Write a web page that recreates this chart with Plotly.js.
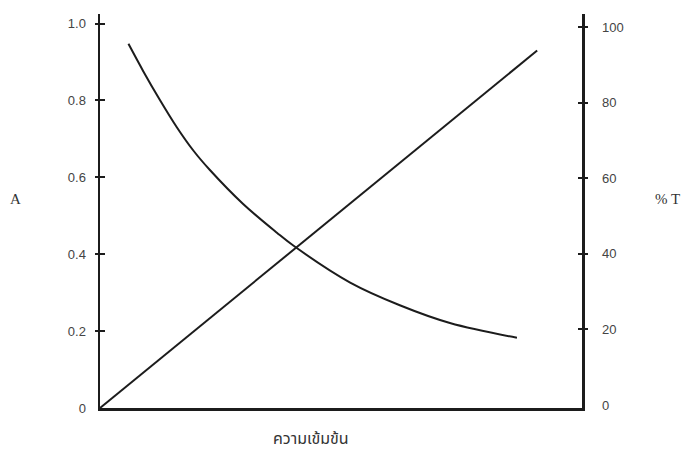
<!DOCTYPE html>
<html>
<head>
<meta charset="utf-8">
<script src="https://cdn.plot.ly/plotly-3.0.1.min.js"></script>
<style>
  html, body { margin: 0; padding: 0; background: #fff; }
  #chart { width: 688px; height: 451px; }
</style>
</head>
<body>
<div id="chart"></div>
<script>
// Absorbance rises linearly with concentration; transmittance falls off.
const concLine = [0, 0.907];
const absorbance = [0, 0.930];

const concCurve = [0.059, 0.090, 0.124, 0.159, 0.194, 0.228, 0.297, 0.367, 0.401, 0.519, 0.622, 0.726, 0.865];
const transmittance = [95.6, 88.3, 80.8, 73.6, 67.3, 62.2, 53.2, 45.6, 42.2, 32.4, 26.4, 21.7, 17.8];

const aTicks = [0, 0.2, 0.4, 0.6, 0.8, 1.0];
const aTickText = ['0', '0.2', '0.4', '0.6', '0.8', '1.0'];
const tTicks = [0, 20, 40, 60, 80, 100];
const tTickText = ['0', '20', '40', '60', '80', '100'];

const ink = '#1c1c1c';
const labelFont = { family: 'Liberation Sans, Arial, sans-serif', size: 13, color: '#444' };

const traces = [
  {
    x: concLine, y: absorbance, yaxis: 'y', mode: 'lines',
    line: { color: ink, width: 2 }, hoverinfo: 'skip', showlegend: false
  },
  {
    x: concCurve, y: transmittance, yaxis: 'y2', mode: 'lines',
    line: { color: ink, width: 2, shape: 'spline', smoothing: 1 }, hoverinfo: 'skip', showlegend: false
  }
];

const aRange = [0, 1.025];
const tRange = [-0.8, 103.5];

const layout = {
  width: 688, height: 451,
  margin: { l: 100, r: 106, t: 14, b: 43 },
  paper_bgcolor: '#fff', plot_bgcolor: '#fff',
  showlegend: false,
  xaxis: {
    range: [0, 1], showline: true, linecolor: ink, linewidth: 2.5,
    showgrid: false, zeroline: false, ticks: '', showticklabels: false, fixedrange: true
  },
  yaxis: {
    range: aRange, showline: true, linecolor: ink, linewidth: 2.5,
    showgrid: false, zeroline: false, ticks: '',
    tickmode: 'array', tickvals: aTicks, ticktext: aTickText,
    tickfont: labelFont, ticklabelstandoff: 9, fixedrange: true
  },
  // crossing tick marks on the absorbance axis
  yaxis3: {
    range: aRange, overlaying: 'y', anchor: 'free', position: 0, side: 'left',
    autoshift: false, shift: 5,
    showline: false, showgrid: false, zeroline: false,
    ticks: 'outside', ticklen: 10, tickwidth: 2, tickcolor: ink,
    tickmode: 'array', tickvals: aTicks.slice(1), showticklabels: false, fixedrange: true
  },
  yaxis2: {
    range: tRange, overlaying: 'y', side: 'right', anchor: 'x',
    showline: true, linecolor: ink, linewidth: 2.5,
    showgrid: false, zeroline: false, ticks: '',
    tickmode: 'array', tickvals: tTicks, ticktext: tTickText,
    tickfont: labelFont, ticklabelstandoff: 15, fixedrange: true
  },
  // crossing tick marks on the transmittance axis
  yaxis4: {
    range: tRange, overlaying: 'y', anchor: 'free', position: 1, side: 'right',
    autoshift: false, shift: -5,
    showline: false, showgrid: false, zeroline: false,
    ticks: 'outside', ticklen: 10, tickwidth: 2, tickcolor: ink,
    tickmode: 'array', tickvals: tTicks.slice(1), showticklabels: false, fixedrange: true
  },
  annotations: [
    {
      text: 'A', xref: 'paper', yref: 'paper', x: -0.175, y: 0.53,
      xanchor: 'center', yanchor: 'middle', showarrow: false,
      font: { family: 'Liberation Serif, Times New Roman, serif', size: 15, color: '#333' }
    },
    {
      text: '% T', xref: 'paper', yref: 'paper', x: 1.178, y: 0.53,
      xanchor: 'center', yanchor: 'middle', showarrow: false,
      font: { family: 'Liberation Serif, Times New Roman, serif', size: 15, color: '#333' }
    },
    {
      text: 'ความเข้มข้น', xref: 'paper', yref: 'paper', x: 0.438, y: -0.078,
      xanchor: 'center', yanchor: 'middle', showarrow: false,
      font: { family: 'Noto Sans Thai, Noto Sans, DejaVu Sans, sans-serif', size: 16, color: '#333' }
    }
  ]
};

// yaxis3/yaxis4 only draw the tick crosses; give each an empty trace
Plotly.newPlot('chart', traces.concat([
  { x: [null], y: [null], yaxis: 'y3', hoverinfo: 'skip', showlegend: false },
  { x: [null], y: [null], yaxis: 'y4', hoverinfo: 'skip', showlegend: false }
]), layout, { staticPlot: true, displayModeBar: false });
</script>
</body>
</html>
